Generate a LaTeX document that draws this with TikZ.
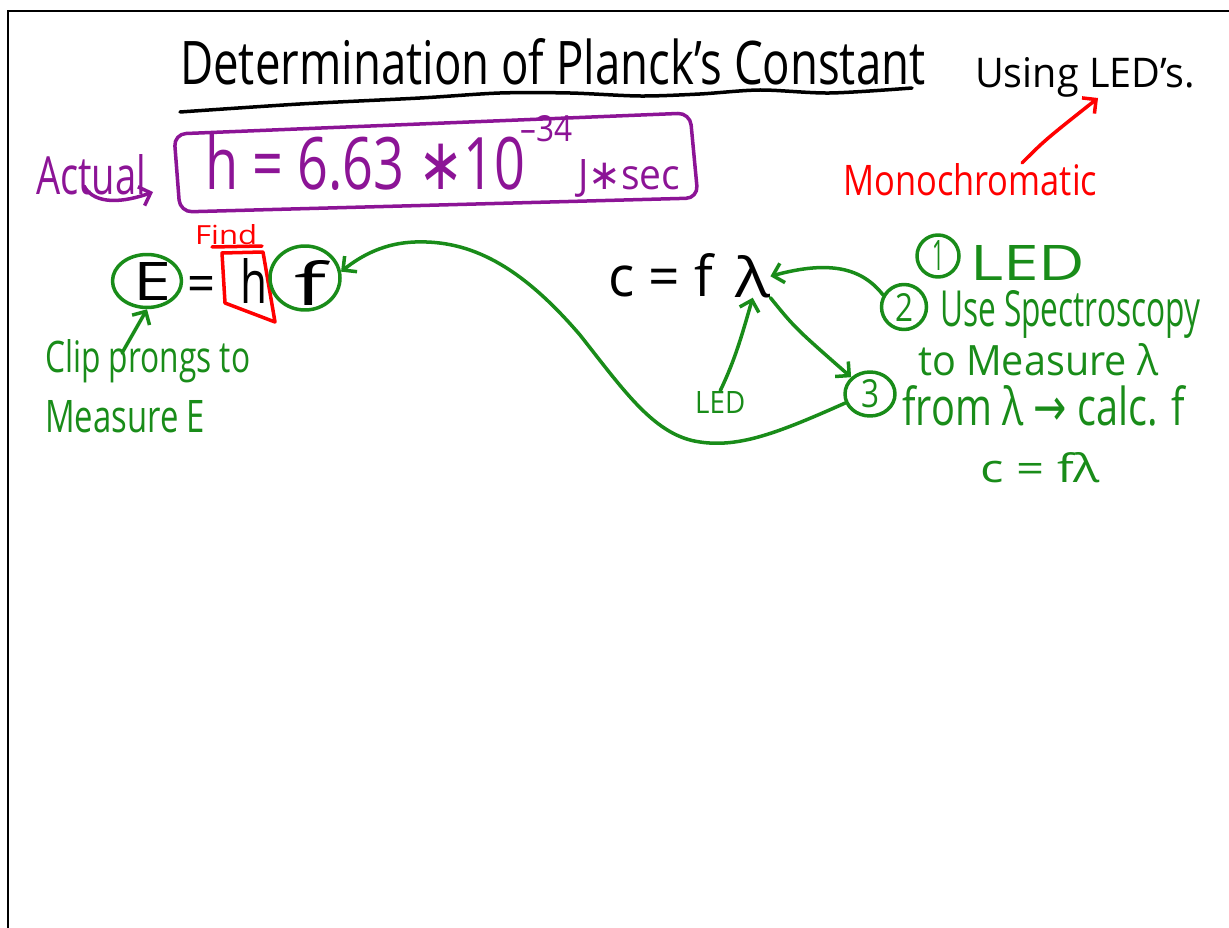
\documentclass[tikz,border=0pt]{standalone}
\usepackage{fontspec}
\usepackage{graphicx}
\setmainfont{Open Sans}
\newfontfamily\dv{DejaVu Sans}
\usetikzlibrary{arrows.meta,shapes.geometric}
\definecolor{purp}{RGB}{140,20,150}
\definecolor{grn}{RGB}{25,140,25}
\definecolor{rd}{RGB}{255,0,0}
\newcommand\fitt[3]{\resizebox{#1pt}{#2pt}{#3}}
\tikzset{
  txt/.style={inner sep=0pt, anchor=base west},
  pen/.style={line width=3.5pt, line cap=round, line join=round},
  arr/.style={pen, -{Straight Barb[length=10pt,width=20pt,line width=3.5pt]}},
  ring/.style={draw=grn, pen, inner sep=0pt},
}
\begin{document}
\begin{tikzpicture}[x=1pt,y=-1pt]
\useasboundingbox (0,0) rectangle (1229,928);
\fill[white] (0,0) rectangle (1229,928);
% frame
\draw[line width=2.5pt] (8,928) -- (8,11) -- (1229,11);

% title
\node[txt] (title) at (180,85) {\fitt{745}{46}{Determination of Planck's Constant}};
\node[txt] (using) at (975,88) {\fitt{220}{30}{Using LED's.}};
\draw[pen,black] plot[smooth] coordinates {(180,112) (300,104) (420,98) (500,93) (570,93) (640,96) (700,94) (760,90) (830,93) (912,88)};

% actual value
\node[txt,text=purp] (actual) at (36,195) {\fitt{110}{40}{Actual}};
\node[txt,text=purp] (heq) at (205,190) {\fitt{320}{55}{h = 6.63 {\dv ∗}10}};
\node[txt,text=purp] (expo) at (520,142) {\fitt{52}{26}{–34}};
\node[txt,text=purp] (jsec) at (578,190) {\fitt{102}{30}{J{\dv ∗}sec}};
\draw[pen,purp,rounded corners=12pt] (174,134) -- (690,113) -- (698,198) -- (180,212) -- cycle;
\coordinate (actS) at (84,186);
\coordinate (actE) at (153,192);
\draw[arr,purp] (actS) .. controls (95,206) and (125,202) .. (actE);

% monochromatic
\node[txt,text=rd] (mono) at (843,196) {\fitt{254}{32}{Monochromatic}};
\coordinate (monoS) at (1022,163);
\coordinate (monoE) at (1098,98);
\draw[arr,rd] (monoS) .. controls (1045,140) .. (monoE);

% E = h f
\node[txt,text=rd] (find) at (195,244) {\fitt{62}{20}{Find}};
\draw[pen,rd] (212,247) -- (262,246);
\node[txt] (E) at (133,300) {\fitt{38}{38}{E}};
\node[txt] (eq1) at (187,302) {\fitt{28}{26}{=}};
\node[txt] (h) at (240,303) {\fitt{27}{45}{h}};
\node[txt] (f) at (294,305) {\fitt{32}{45}{f}};
\draw[pen,rd] (222,253) -- (263,252) -- (275,322) -- (225,303) -- cycle;
\node[ring,ellipse,minimum width=69pt,minimum height=53pt] (cE) at (147,281) {};
\node[ring,ellipse,minimum width=70pt,minimum height=64pt] (cf) at (305,278) {};

% clip prongs
\node[txt,text=grn] (clip) at (45,372) {\fitt{205}{33}{Clip prongs to}};
\node[txt,text=grn] (meas) at (45,432) {\fitt{160}{32}{Measure E}};
\coordinate (clipS) at (122,353);
\draw[arr,grn] (clipS) -- (cE.south);

% c = f lambda
\node[txt] (cfl) at (608,297) {\fitt{105}{43}{c = f}};
\node[txt] (lam) at (735,297) {\fitt{35}{42}{λ}};
\node[txt,text=grn] (ledS) at (695,413) {\fitt{50}{22}{LED}};

% steps
\node[ring,circle,minimum size=42pt,text=grn] (n1) at (938,256) {\fitt{12}{30}{1}};
\node[txt,text=grn] (s1) at (970,280) {\fitt{115}{35}{LED}};
\node[ring,circle,minimum size=45pt,text=grn] (n2) at (904,307) {\fitt{18}{28}{2}};
\node[txt,text=grn] (s2a) at (940,326) {\fitt{260}{36}{Use Spectroscopy}};
\node[txt,text=grn] (s2b) at (918,375) {\fitt{240}{32}{to Measure λ}};
\node[ring,ellipse,minimum width=50pt,minimum height=44pt,text=grn] (n3) at (870,394) {\fitt{18}{28}{3}};
\node[txt,text=grn] (s3a) at (902,425) {\fitt{283}{40}{from λ {\dv →} calc. f}};
\node[txt,text=grn] (s3b) at (980,482) {\fitt{120}{30}{c = fλ}};

% connectors
\draw[arr,grn] (ledS.north) .. controls (735,360) and (742,335) .. (lam.south);
\draw[arr,grn] (lam.south east) .. controls (795,328) .. (n3.north west);
\draw[arr,grn] (n2.150) .. controls (862,268) and (830,260) .. (lam.east);
\draw[arr,grn] (n3.200) .. controls (780,432) and (740,448) .. (700,442)
   .. controls (655,436) and (625,392) .. (580,335)
   .. controls (520,265) and (470,240) .. (415,242)
   .. controls (385,243) and (362,255) .. (cf.10);
\end{tikzpicture}
\end{document}
